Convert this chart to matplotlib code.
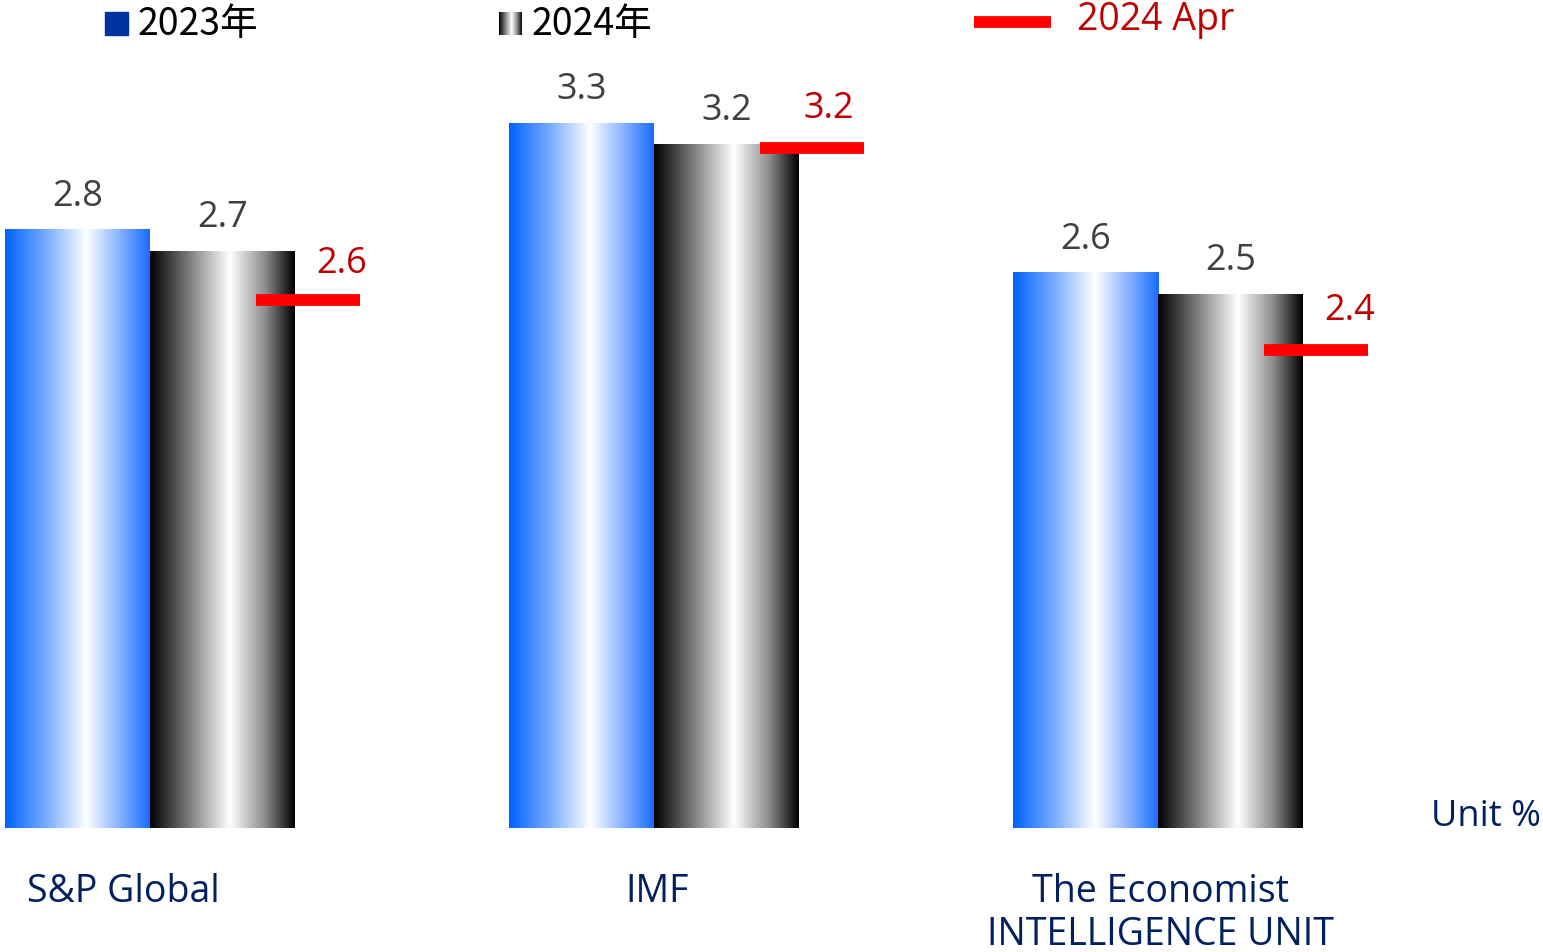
import numpy as np
import matplotlib.pyplot as plt
from matplotlib.colors import LinearSegmentedColormap

# data
categories = ['S&P Global', 'IMF', 'The Economist\nINTELLIGENCE UNIT']
val_2023 = [2.8, 3.3, 2.6]
val_2024 = [2.7, 3.2, 2.5]
val_apr = [2.6, 3.2, 2.4]
legend_labels = ['2023年', '2024年', '2024 Apr']

W, H = 1543, 952
fig = plt.figure(figsize=(W / 100, H / 100), dpi=100)
ax = fig.add_axes([0, 0, 1, 1])
ax.axis('off')

PX = 504.0          # pixels per group
bw = 145 / PX       # bar width
x = np.arange(len(categories))

cm_blue = LinearSegmentedColormap.from_list(
    'b', [(0, '#0062ff'), (0.3, '#7fb0ff'), (0.56, '#ffffff'), (1, '#1a6dff')])
cm_black = LinearSegmentedColormap.from_list(
    'k', [(0, '#000000'), (0.55, '#ffffff'), (0.8, '#8a8a8a'), (1, '#000000')])
grad = np.linspace(0, 1, 256).reshape(1, -1)

num_font = 'Open Sans'
grey = '#404040'
navy = '#002060'
red_txt = '#c00000'

for i in range(len(categories)):
    ax.imshow(grad, cmap=cm_blue, extent=[x[i] - bw, x[i], 0, val_2023[i]],
              aspect='auto', interpolation='bilinear')
    ax.imshow(grad, cmap=cm_black, extent=[x[i], x[i] + bw, 0, val_2024[i]],
              aspect='auto', interpolation='bilinear')
    ax.annotate(f'{val_2023[i]:.1f}', (x[i] - bw / 2, val_2023[i]),
                textcoords='offset pixels', xytext=(0, 15), ha='center',
                va='bottom', fontsize=26, color=grey, family=num_font)
    ax.annotate(f'{val_2024[i]:.1f}', (x[i] + bw / 2, val_2024[i]),
                textcoords='offset pixels', xytext=(0, 15), ha='center',
                va='bottom', fontsize=26, color=grey, family=num_font)

# pixel mapping: x=0 at px 150, y=0 at px 828, 213.6 px per unit
ax.set_xlim(-150 / PX, (W - 150) / PX)
ax.set_ylim(-(H - 828) / 213.6, 828 / 213.6)

# April forecasts on a secondary scale
ax2 = ax.twinx()
ax2.set_position([0, 0, 1, 1])
ax2.axis('off')
ax2.set_xlim(ax.get_xlim())
ax2.set_ylim(0.011, 3.789)
x0 = x + 106 / PX
x1 = x + 210 / PX
ax2.hlines(val_apr, x0, x1, color='#ff0000', lw=8.5)
red_dx = [34, 17, 34]
red_dy = [18, 21, 21]
for i in range(len(categories)):
    ax2.annotate(f'{val_apr[i]:.1f}', ((x0[i] + x1[i]) / 2, val_apr[i]),
                 textcoords='offset pixels', xytext=(red_dx[i], red_dy[i]),
                 ha='center', va='bottom', fontsize=26, color=red_txt,
                 family=num_font)

# category labels
offsets = [-27, 3, 2]
for i, c in enumerate(categories):
    ax.annotate(c, (x[i], 0), textcoords='offset pixels',
                xytext=(offsets[i], -45), ha='center', va='top',
                fontsize=27, color=navy, family=num_font, linespacing=1.17)

fig.text(1541 / W, 1 - 817 / H, 'Unit %', ha='right', va='center',
         fontsize=26, color=navy, family=num_font)

# legend
def fx(px):
    return px / W

def fy(py):
    return 1 - py / H

fig.patches.append(plt.Rectangle((fx(105), fy(35)), 23 / W, 23 / H,
                                 transform=fig.transFigure, color='#0033a0'))
lax = fig.add_axes([fx(499), fy(35), 23 / W, 23 / H])
lax.imshow(grad, cmap=cm_black, aspect='auto')
lax.axis('off')
fig.add_artist(plt.Line2D([fx(974), fx(1051)], [fy(22), fy(22)],
                          transform=fig.transFigure, color='#ff0000', lw=8.5,
                          solid_capstyle='butt'))
cjk = ['Noto Sans CJK TC', 'DejaVu Sans']
fig.text(fx(138), fy(25), legend_labels[0], ha='left', va='center',
         fontsize=27, color='black', family=cjk)
fig.text(fx(532), fy(25), legend_labels[1], ha='left', va='center',
         fontsize=27, color='black', family=cjk)
fig.text(fx(1077), fy(20), legend_labels[2], ha='left', va='center',
         fontsize=27, color=red_txt, family=num_font)

plt.savefig('out.png', dpi=100)
plt.close()
